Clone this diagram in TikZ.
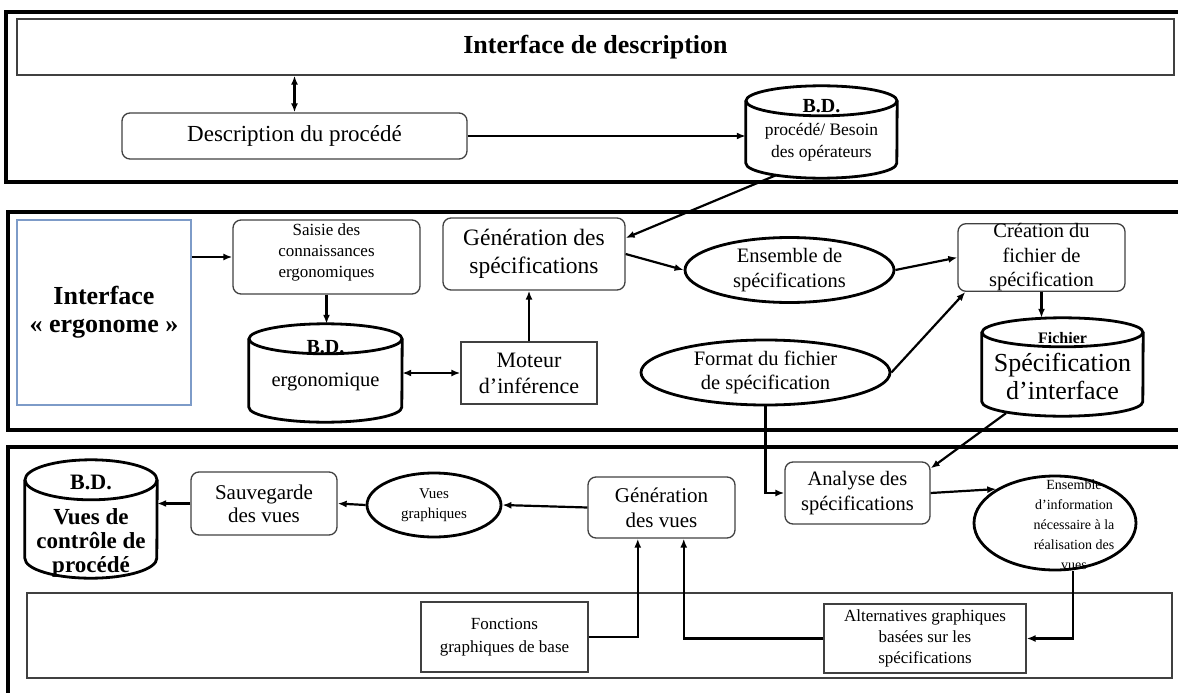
\documentclass[tikz,border=0pt]{standalone}
\usepackage{fontspec}
\setmainfont{Liberation Serif}
\usetikzlibrary{arrows.meta,calc,shapes.geometric}
\definecolor{ergoblue}{RGB}{125,155,200}

% database cylinder drawn round an empty node
\newcommand{\dbcyl}[3]{%
  \draw[dbline] ($(#1.north)+(0,#3)$) ellipse[x radius=#2, y radius=#3];
  \draw[dbline] ($(#1.north west)+(0,#3)$) -- ($(#1.south west)-(0,#3)$)
    arc[start angle=180, end angle=0, x radius=#2, y radius=#3]
    -- ($(#1.north east)+(0,#3)$);
}

\begin{document}
\begin{tikzpicture}[x=1pt,y=-1pt,
    panel/.style={line width=4pt},
    thinbox/.style={draw=black!75, line width=1.3pt, inner sep=0pt},
    rbox/.style={draw=black!75, line width=1.3pt, rounded corners=8pt, align=center, inner sep=0pt},
    sbox/.style={draw=black!75, line width=1.3pt, align=center, inner sep=0pt},
    oval/.style={ellipse, draw, line width=2.8pt, inner sep=0pt, align=center},
    dbbody/.style={inner sep=0pt},
    dbline/.style={line width=2.8pt},
    bdfont/.style={font=\bfseries\fontsize{20}{24}\selectfont},
    link/.style={line width=2.2pt, -{Latex[length=9pt,width=7pt]}},
    dlink/.style={line width=2.2pt, {Latex[length=9pt,width=7pt]}-{Latex[length=9pt,width=7pt]}}]
    \useasboundingbox (0,0) rectangle (1178,693);

    % Interface de description
    \draw[panel] (6,12) rectangle (1195,182);
    \node[thinbox, minimum width=1157pt, minimum height=56pt, font=\bfseries\fontsize{26}{30}\selectfont] (title) at (595.5,47) {Interface de description};
    \node[rbox, minimum width=345pt, minimum height=46pt, font=\fontsize{23}{27}\selectfont] (desc) at (294.5,136) {Description du procédé};
    \node[dbbody, minimum width=151pt, minimum height=92pt] (bdproc) at (821.5,132) {};
    \dbcyl{bdproc}{75.5}{15}
    \node[bdfont] (bdproclbl) at (821.5,106) {B.D.};
    \node[align=center, font=\fontsize{17.5}{22}\selectfont] (bdproctxt) at (821.5,142) {procédé/ Besoin\\des opérateurs};
    \draw[dlink] (desc.north) -- (desc.north |- title.south);
    \draw[link] (desc.east) -- (desc.east -| bdproc.west);

    % Interface ergonome
    \draw[panel] (8,212) rectangle (1195,430);
    \node[draw=ergoblue, line width=1.2pt, minimum width=174pt, minimum height=185pt, align=center, font=\bfseries\fontsize{26}{28}\selectfont] (ergo) at (104,312.5) {Interface\\«~ergonome~»};
    \node[rbox, minimum width=187pt, minimum height=74pt, text depth=13pt, font=\fontsize{17}{21}\selectfont] (saisie) at (326.5,257) {Saisie des\\connaissances\\ergonomiques};
    \node[dbbody, minimum width=153pt, minimum height=98pt] (bderg) at (325.5,373) {};
    \dbcyl{bderg}{76.5}{15}
    \node[bdfont] (bderglbl) at (325.5,347) {B.D.};
    \node[font=\fontsize{20.5}{24}\selectfont] (bdergtxt) at (325.5,382) {ergonomique};
    \node[sbox, minimum width=136pt, minimum height=62pt, font=\fontsize{22}{26}\selectfont] (moteur) at (529,373) {Moteur\\d’inférence};
    \node[rbox, minimum width=182pt, minimum height=72pt, font=\fontsize{23.5}{28}\selectfont] (genspec) at (534,254) {Génération des\\spécifications};
    \node[oval, minimum width=209pt, minimum height=65pt, font=\fontsize{20.5}{25}\selectfont] (enspec) at (789.5,270) {Ensemble de\\spécifications};
    \node[rbox, minimum width=167pt, minimum height=67pt, font=\fontsize{20.5}{24.5}\selectfont] (creation) at (1041.5,257.5) {Création du\\fichier de\\spécification};
    \node[dbbody, minimum width=161pt, minimum height=98pt] (bdfich) at (1062.5,367) {};
    \dbcyl{bdfich}{80.5}{14.5}
    \node[font=\bfseries\fontsize{16}{19}\selectfont] (bdfichlbl) at (1062.5,338) {Fichier};
    \node[align=center, font=\fontsize{26}{28}\selectfont] (bdfichtxt) at (1062.5,376) {Spécification\\d’interface};
    \node[oval, minimum width=249pt, minimum height=65pt, font=\fontsize{20.5}{24}\selectfont] (format) at (765.5,372.5) {Format du fichier\\de spécification};

    \draw[link] ($(bdproc.south west)!0.4!(bdproc.south)+(0,-3)$) -- ($(genspec.east)+(0,-16)$);
    \draw[link] (saisie.west -| ergo.east) -- (saisie.west);
    \draw[link] (saisie.south) -- (saisie.south |- bderg.north);
    \draw[dlink] (bderg.east) -- (moteur.west);
    \draw[link] (moteur.north) -- (moteur.north |- genspec.south);
    \draw[link] (genspec.east) -- (enspec.west);
    \draw[link] (enspec.east) -- (creation.west);
    \draw[link] (format.east) -- ($(creation.south west)+(8,0)$);
    \draw[link] (creation.south) -- (creation.south |- bdfich.north);

    % Vues
    \draw[panel] (8,447) rectangle (1195,720);
    \node[dbbody, minimum width=132pt, minimum height=118pt] (bdvues) at (91,519) {};
    \dbcyl{bdvues}{66}{20}
    \node[font=\bfseries\fontsize{22}{24}\selectfont] (bdvueslbl) at (91,482) {B.D.};
    \node[align=center, font=\bfseries\fontsize{23}{24}\selectfont] (bdvuestxt) at (91,543) {Vues de\\contrôle de\\procédé};
    \node[rbox, minimum width=146pt, minimum height=63pt, font=\fontsize{21}{23}\selectfont] (sauv) at (264,503.5) {Sauvegarde\\des vues};
    \node[oval, minimum width=134pt, minimum height=64pt, font=\fontsize{15}{20}\selectfont] (vuesg) at (434,505) {Vues\\graphiques};
    \node[rbox, minimum width=147pt, minimum height=61pt, font=\fontsize{21}{25}\selectfont] (genvues) at (661.5,507.5) {Génération\\des vues};
    \node[rbox, minimum width=145pt, minimum height=62pt, font=\fontsize{20.5}{25}\selectfont] (analyse) at (857.5,493) {Analyse des\\spécifications};
    \node[oval, minimum width=162pt, minimum height=94pt] (ensinfo) at (1055,523) {};
    \node[align=center, font=\fontsize{14}{20}\selectfont] (ensinfotxt) at (1074,525) {Ensemble\\d’information\\nécessaire à la\\réalisation des\\vues};
    \node[thinbox, minimum width=1145pt, minimum height=85pt] (base) at (599.5,635.5) {};
    \node[sbox, minimum width=167pt, minimum height=70pt, font=\fontsize{17}{23}\selectfont] (fonctions) at (504.5,637) {Fonctions\\graphiques de base};
    \node[sbox, minimum width=202pt, minimum height=69pt, font=\fontsize{17}{21}\selectfont] (alt) at (925,638.5) {Alternatives graphiques\\basées sur les\\spécifications};

    \draw[link] (format.south) |- (analyse.west);
    \draw[link] ($(bdfich.south west)!0.3!(bdfich.south)+(0,-3)$) -- ($(analyse.north east)+(0,7)$);
    \draw[link] (analyse.east) -- (ensinfo.150);
    \draw[link] ($(ensinfo.south)+(18,0)$) |- (alt.east);
    \draw[link] (alt.west) -| ($(genvues.south west)!0.65!(genvues.south east)$);
    \draw[link] (fonctions.east) -| ($(genvues.south west)!0.34!(genvues.south east)$);
    \draw[link] (genvues.west) -- (vuesg.east);
    \draw[link] (vuesg.west) -- (sauv.east);
    \draw[link] (sauv.west) -- (sauv.west -| bdvues.east);
\end{tikzpicture}
\end{document}
